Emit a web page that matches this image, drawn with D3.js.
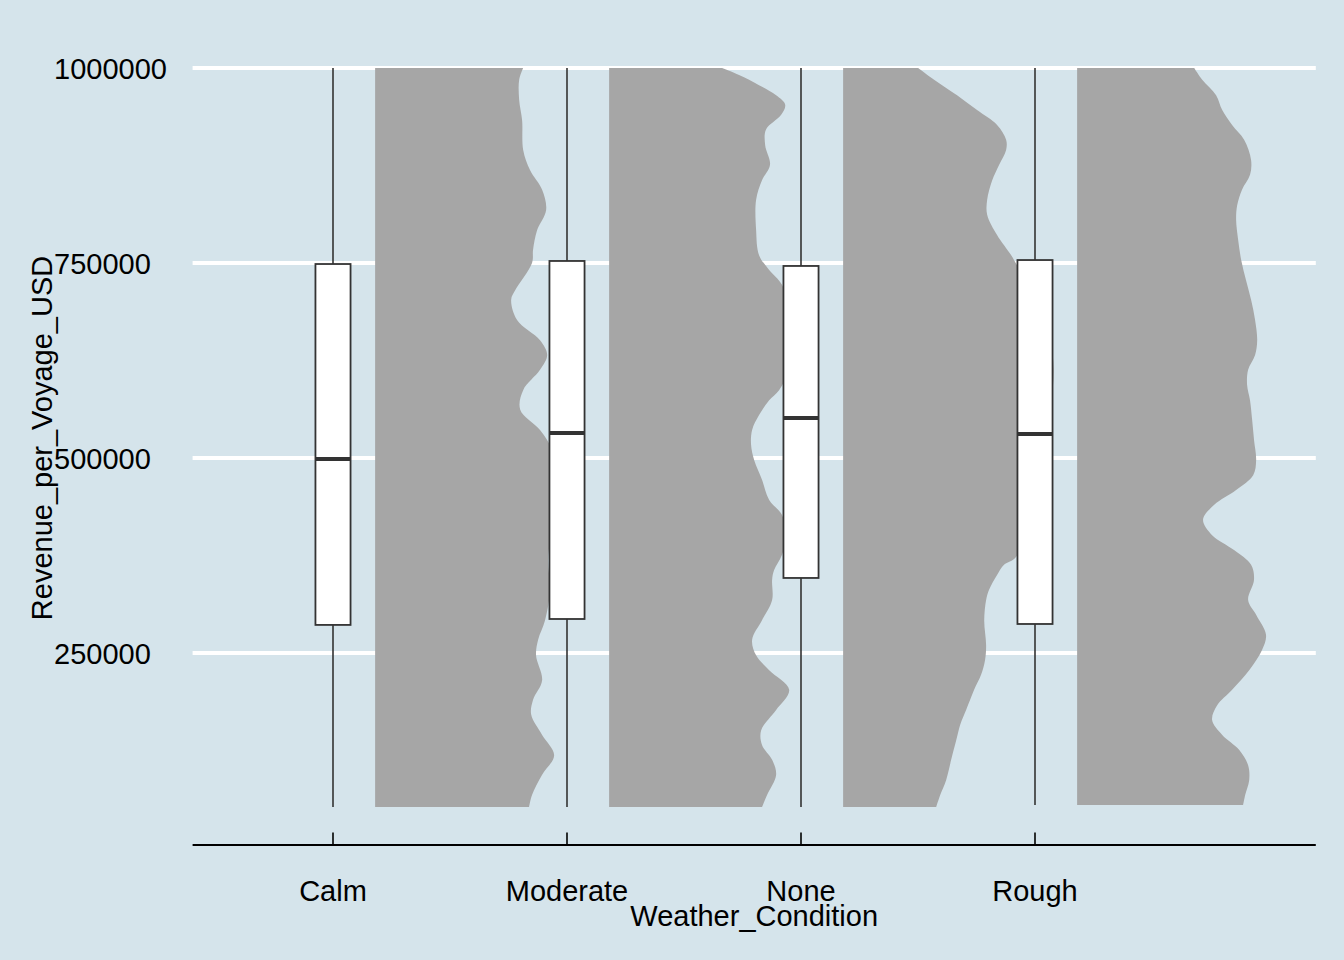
<!DOCTYPE html>
<html>
<head>
<meta charset="utf-8">
<script src="https://cdn.jsdelivr.net/npm/d3@7"></script>
<style>
  html, body { margin: 0; padding: 0; background: #d5e4eb; }
  svg { display: block; }
</style>
</head>
<body>
<svg id="chart" width="1344" height="960"></svg>
<script>
// ---- data ----
const categories = ["Calm", "Moderate", "None", "Rough"];
const yTicks = [250000, 500000, 750000, 1000000];

// box statistics [min, q1, median, q3, max]
const boxMin    = [52500, 52500, 52500, 55000];
const boxQ1     = [286000, 293600, 346200, 287200];
const boxMedian = [498700, 532100, 551300, 530800];
const boxQ3     = [748700, 752600, 746200, 753800];
const boxMax    = [1000000, 1000000, 1000000, 1000000];

// half-violin density profiles: [revenue, relative density (1 = max over all)]
const densityCalm = [
  [52500,0.731],[68000,0.745],[94000,0.793],[119000,0.850],[145000,0.793],[171000,0.741],
  [190000,0.750],[215000,0.793],[247000,0.764],[267000,0.774],[292000,0.807],[331000,0.831],
  [369000,0.821],[395000,0.831],[433000,0.845],[472000,0.850],[510000,0.840],[536000,0.783],
  [562000,0.689],[587000,0.703],[613000,0.783],[632000,0.817],[651000,0.783],[677000,0.674],
  [703000,0.646],[715000,0.665],[750000,0.745],[767000,0.750],[792000,0.769],[818000,0.812],
  [844000,0.793],[869000,0.736],[895000,0.703],[933000,0.698],[959000,0.684],[985000,0.684],
  [1000000,0.703]
];
const densityModerate = [
  [52500,0.726],[68000,0.750],[94000,0.793],[113000,0.774],[132000,0.726],[151000,0.722],
  [177000,0.793],[203000,0.855],[228000,0.760],[247000,0.698],[267000,0.679],[292000,0.726],
  [318000,0.774],[344000,0.774],[356000,0.783],[376000,0.821],[401000,0.845],[427000,0.821],
  [446000,0.760],[472000,0.726],[497000,0.689],[517000,0.674],[536000,0.679],[555000,0.712],
  [574000,0.760],[587000,0.807],[613000,0.855],[651000,0.874],[690000,0.855],[722000,0.821],
  [741000,0.760],[760000,0.712],[792000,0.698],[831000,0.698],[856000,0.726],[876000,0.764],
  [901000,0.741],[921000,0.745],[940000,0.817],[953000,0.836],[965000,0.793],[978000,0.712],
  [991000,0.617],[1000000,0.537]
];
const densityNone = [
  [52500,0.442],[68000,0.461],[87000,0.489],[113000,0.513],[138000,0.537],[158000,0.556],
  [177000,0.584],[203000,0.622],[222000,0.655],[241000,0.674],[260000,0.679],[292000,0.670],
  [318000,0.679],[331000,0.693],[350000,0.731],[363000,0.764],[373000,0.821],[446000,0.893],
  [510000,0.945],[574000,0.988],[614000,1.000],[651000,0.983],[703000,0.921],[747000,0.826],
  [760000,0.798],[786000,0.731],[812000,0.684],[831000,0.684],[856000,0.708],[876000,0.741],
  [895000,0.774],[908000,0.774],[927000,0.731],[946000,0.636],[965000,0.541],[985000,0.432],
  [1000000,0.356]
];
const densityRough = [
  [55000,0.788],[68000,0.798],[87000,0.817],[106000,0.812],[126000,0.769],[145000,0.689],
  [164000,0.641],[183000,0.665],[203000,0.736],[228000,0.817],[254000,0.878],[273000,0.897],
  [299000,0.850],[318000,0.812],[344000,0.840],[363000,0.826],[382000,0.745],[401000,0.641],
  [421000,0.598],[440000,0.651],[459000,0.755],[478000,0.836],[497000,0.850],[523000,0.840],
  [549000,0.831],[574000,0.821],[594000,0.807],[613000,0.812],[632000,0.845],[651000,0.855],
  [677000,0.845],[703000,0.826],[728000,0.802],[754000,0.779],[779000,0.765],[805000,0.755],
  [824000,0.760],[844000,0.783],[863000,0.821],[882000,0.826],[908000,0.793],[927000,0.736],
  [946000,0.689],[965000,0.660],[985000,0.594],[1000000,0.556]
];
const densities = [densityCalm, densityModerate, densityNone, densityRough];

// ---- layout ----
const W = 1344, H = 960;
const panel = { left: 192.6, right: 1315.8, top: 31, bottom: 845 };
const svg = d3.select("#chart");
const font = "'Liberation Sans', Arial, sans-serif";
const fs = 29;

svg.append("rect").attr("width", W).attr("height", H).attr("fill", "#d5e4eb");

const x = d3.scaleLinear().domain([0.4, 5.2]).range([panel.left, panel.right]);
const y = d3.scaleLinear().domain([250000, 1000000]).range([653, 68]);

// grid lines
svg.append("g").selectAll("line").data(yTicks).join("line")
  .attr("x1", panel.left).attr("x2", panel.right)
  .attr("y1", d => y(d)).attr("y2", d => y(d))
  .attr("stroke", "#ffffff").attr("stroke-width", 3.8);

// y tick labels (left-aligned, economist style)
svg.append("g").selectAll("text").data(yTicks).join("text")
  .attr("x", 54).attr("y", d => y(d) + 10.5)
  .attr("font-family", font).attr("font-size", fs).attr("fill", "#000")
  .text(d => d3.format("d")(d));

// half violins
const slabOffset = 0.18, slabScale = 0.9;
categories.forEach((c, i) => {
  const pos = i + 1;
  const area = d3.area()
    .y(d => y(d[0]))
    .x0(() => x(pos + slabOffset))
    .x1(d => x(pos + slabOffset + slabScale * d[1]))
    .curve(d3.curveCatmullRom.alpha(0.5));
  svg.append("path").datum(densities[i])
    .attr("d", area).attr("fill", "#a6a6a6");
});

// boxplots
const boxHalf = 0.075;
categories.forEach((c, i) => {
  const pos = i + 1;
  const g = svg.append("g");
  const stroke = "#333333";
  g.append("line").attr("x1", x(pos)).attr("x2", x(pos))
    .attr("y1", y(boxMax[i])).attr("y2", y(boxMin[i]))
    .attr("stroke", stroke).attr("stroke-width", 1.6);
  g.append("rect")
    .attr("x", x(pos - boxHalf)).attr("width", x(pos + boxHalf) - x(pos - boxHalf))
    .attr("y", y(boxQ3[i])).attr("height", y(boxQ1[i]) - y(boxQ3[i]))
    .attr("fill", "#ffffff").attr("stroke", stroke).attr("stroke-width", 1.8);
  g.append("line")
    .attr("x1", x(pos - boxHalf)).attr("x2", x(pos + boxHalf))
    .attr("y1", y(boxMedian[i])).attr("y2", y(boxMedian[i]))
    .attr("stroke", stroke).attr("stroke-width", 4);
});

// x axis line and ticks
svg.append("line").attr("x1", panel.left).attr("x2", panel.right)
  .attr("y1", panel.bottom).attr("y2", panel.bottom)
  .attr("stroke", "#000").attr("stroke-width", 2);
svg.append("g").selectAll("line").data(categories).join("line")
  .attr("x1", (d, i) => x(i + 1)).attr("x2", (d, i) => x(i + 1))
  .attr("y1", panel.bottom).attr("y2", panel.bottom - 12.5)
  .attr("stroke", "#000").attr("stroke-width", 1.6);
svg.append("g").selectAll("text").data(categories).join("text")
  .attr("x", (d, i) => x(i + 1)).attr("y", 900.5)
  .attr("text-anchor", "middle")
  .attr("font-family", font).attr("font-size", fs).attr("fill", "#000")
  .text(d => d);

// axis titles
svg.append("text")
  .attr("x", (panel.left + panel.right) / 2).attr("y", 926)
  .attr("text-anchor", "middle")
  .attr("font-family", font).attr("font-size", fs).attr("fill", "#000")
  .text("Weather_Condition");
svg.append("text")
  .attr("transform", `translate(52,${(panel.top + panel.bottom) / 2}) rotate(-90)`)
  .attr("text-anchor", "middle")
  .attr("font-family", font).attr("font-size", fs).attr("fill", "#000")
  .text("Revenue_per_Voyage_USD");
</script>
</body>
</html>
